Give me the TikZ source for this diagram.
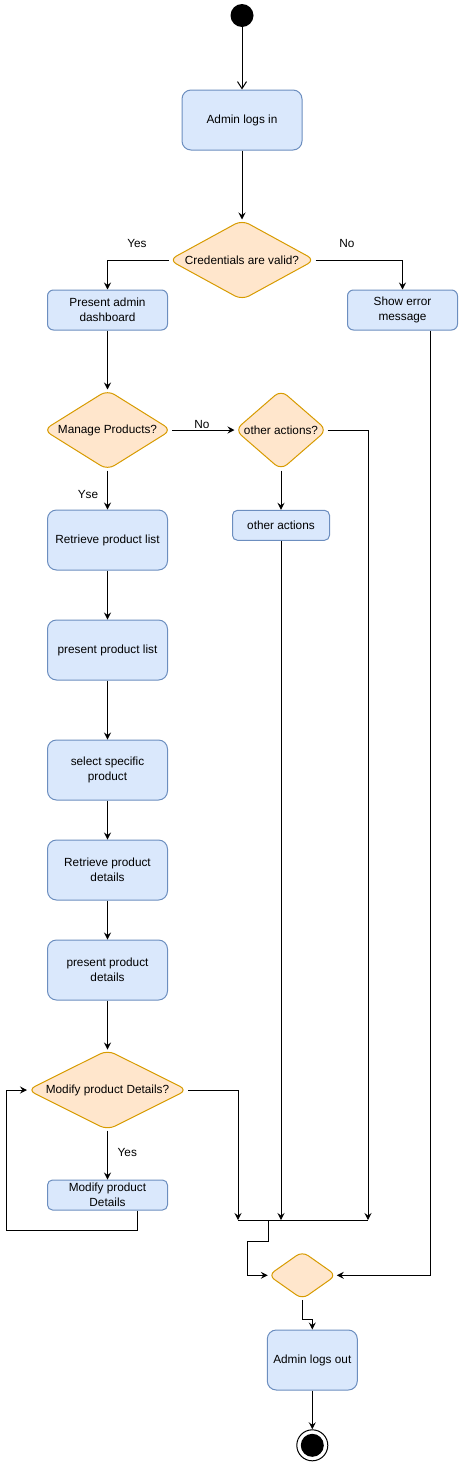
\documentclass[tikz,border=0pt]{standalone}
\usepackage{fontspec}
\setmainfont{Liberation Sans}
\usetikzlibrary{arrows.meta, shapes.geometric, positioning}

\definecolor{actfill}{HTML}{DAE8FC}
\definecolor{actline}{HTML}{6C8EBF}
\definecolor{decfill}{HTML}{FFE6CC}
\definecolor{decline}{HTML}{D79B00}

\begin{document}
\begin{tikzpicture}[x=1pt, y=-1pt, font=\fontsize{11.8}{14.5}\selectfont,
    action/.style={rectangle, rounded corners=9pt, draw=actline, fill=actfill, line width=1pt,
        minimum width=120pt, minimum height=60pt, align=center, inner sep=1pt},
    decision/.style={diamond, rounded corners=8pt, draw=decline, fill=decfill, line width=1pt, inner sep=0pt},
    initial/.style={circle, fill=black, minimum size=23pt, inner sep=0pt},
    final/.style={circle, draw, line width=1pt, minimum size=31pt, inner sep=0pt,
        path picture={\fill[black] (path picture bounding box.center) circle (11.5pt);}},
    flow/.style={line width=1pt, -{Stealth[length=7pt, width=7pt, inset=2.5pt]}},
    open/.style={line width=1pt, -{Straight Barb[length=7pt, width=9pt]}},
    guard/.style={inner sep=0pt}]

\useasboundingbox (0,0) rectangle (459,1462);

\node[initial] (start) at (242,15.5) {};
\node[action] (login) at (242,120) {Admin logs in};
\node[decision, minimum width=146pt, minimum height=80pt, label=center:{Credentials are valid?}] (valid) at (242,260) {};
\node[action, minimum height=40pt, rounded corners=6pt] (dash) at (107.5,310) {Present admin\\dashboard};
\node[action, minimum width=110pt, minimum height=40pt, rounded corners=6pt] (err) at (402.5,310) {Show error\\message};

\node[decision, minimum width=128pt, minimum height=80pt, label=center:{Manage Products?}] (manage) at (107.5,430) {};
\node[decision, minimum width=92pt, minimum height=80pt, label=center:{other actions?}] (other) at (281,430) {};
\node[action, minimum width=97pt, minimum height=30pt, rounded corners=5pt] (otheract) at (281,525.3) {other actions};

\node[action] (retr) at (107.5,540) {Retrieve product list};
\node[action] (plist) at (107.5,650) {present product list};
\node[action] (sel) at (107.5,770) {select specific\\product};
\node[action] (rdet) at (107.5,870) {Retrieve product\\details};
\node[action] (pdet) at (107.5,970) {present product\\details};
\node[decision, minimum width=160pt, minimum height=80pt, label=center:{Modify product Details?}] (modq) at (107.5,1090) {};
\node[action, minimum height=30pt, rounded corners=5pt] (modb) at (107.5,1195) {Modify product\\Details};

\node[decision, minimum width=68pt, minimum height=48pt, rounded corners=7pt] (merge) at (302.3,1275.3) {};
\node[action, minimum width=90pt] (logout) at (312.3,1360) {Admin logs out};
\node[final] (finish) at (312.3,1445.3) {};

\coordinate (barL) at (238,1220);
\coordinate (barJ) at (268,1220);
\coordinate (barM) at (281,1220);
\coordinate (barR) at (368,1220);

\node[guard] (yes1) at (137,243) {Yes};
\node[guard] (no1) at (347,243) {No};
\node[guard] (no2) at (202,424) {No};
\node[guard] (yes2) at (88,494) {Yse};
\node[guard] (yes3) at (127.3,1152.7) {Yes};

\draw[open] (start) -- (login);
\draw[flow] (login) -- (valid);
\draw[flow] (valid.west) -| (dash.north);
\draw[flow] (valid.east) -| (err.north);
\draw[flow] (dash) -- (manage);
\draw[flow] (manage) -- (other);
\draw[flow] (manage) -- (retr);
\draw[flow] (other) -- (otheract);
\draw[flow] (other.east) -| (barR);
\draw[flow] (otheract) -- (barM);

\draw[flow] (retr) -- (plist);
\draw[flow] (plist) -- (sel);
\draw[flow] (sel) -- (rdet);
\draw[flow] (rdet) -- (pdet);
\draw[flow] (pdet) -- (modq);
\draw[flow] (modq) -- (modb);
\draw[flow] ([xshift=30pt]modb.south) -- ++(0,20) -| ([xshift=-21pt]modq.west) -- (modq.west);
\draw[flow] (modq.east) -| (barL);

\draw[line width=1pt] (barL) -- (barR);
\draw[flow] (barJ) -- ++(0,21) -| ([xshift=-20pt]merge.west) -- (merge.west);
\draw[flow] ([xshift=27.5pt]err.south) |- (merge.east);
\draw[flow] (merge.south) -- ++(0,20) -| (logout.north);
\draw[flow] (logout) -- (finish);

\end{tikzpicture}
\end{document}
